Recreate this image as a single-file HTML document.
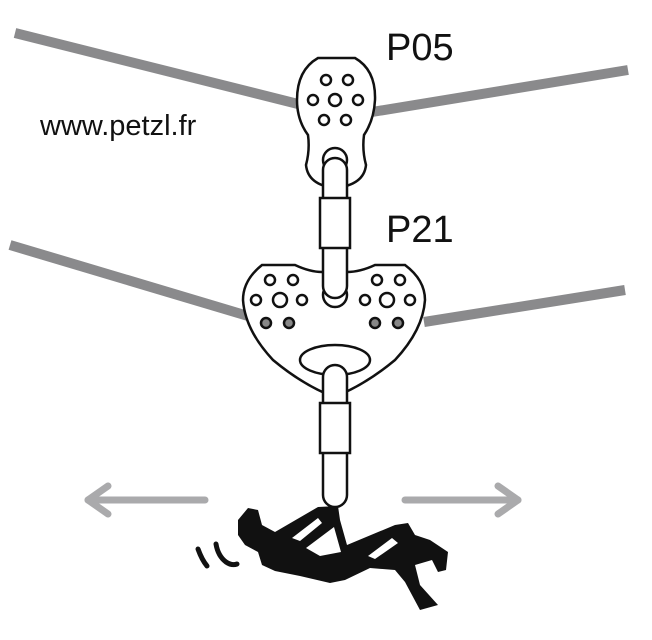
<!DOCTYPE html>
<html><head><meta charset="utf-8"><style>
html,body{margin:0;padding:0;background:#fff;width:652px;height:640px;overflow:hidden}
svg{display:block}
text{font-family:"Liberation Sans",sans-serif;fill:#111}
</style></head><body>
<svg width="652" height="640" viewBox="0 0 652 640" xmlns="http://www.w3.org/2000/svg">
<g stroke="#8a8a8c" stroke-width="10" stroke-linecap="butt" fill="none">
<line x1="15" y1="33" x2="302" y2="105"/>
<line x1="372" y1="112" x2="628" y2="70"/>
<line x1="10" y1="245" x2="248" y2="316"/>
<line x1="424" y1="322" x2="625" y2="290"/>
</g>
<g stroke="#aaaaac" stroke-width="7" fill="none" stroke-linecap="round" stroke-linejoin="round">
<line x1="205" y1="500" x2="88" y2="500"/><polyline points="108,486 88,500 108,514"/>
<line x1="405" y1="500" x2="518" y2="500"/><polyline points="498,486 518,500 498,514"/>
</g>
<text x="386" y="60" font-size="38">P05</text>
<text x="386" y="242" font-size="38">P21</text>
<text x="40" y="135" font-size="29">www.petzl.fr</text>
<g stroke="#111" stroke-width="2.5" fill="#fff">
<path d="M318,58 L355,58 Q376,70 375,100 Q374,120 364,135 Q362,150 366,165 Q364,185 335,188 Q308,185 306,165 Q310,150 308,135 Q297,120 297,100 Q297,70 318,58 Z"/>
<circle cx="335" cy="100" r="6"/><circle cx="326" cy="80" r="5"/><circle cx="348" cy="80" r="5"/>
<circle cx="313" cy="100" r="5"/><circle cx="358" cy="100" r="5"/><circle cx="324" cy="120" r="5"/><circle cx="346" cy="120" r="5"/>
<circle cx="335" cy="160" r="12"/>
<path d="M262,265 L295,265 Q310,272 322,272 L347,272 Q360,272 375,265 L405,265 Q425,280 425,300 Q423,330 395,360 Q365,385 334,397 Q303,385 273,360 Q245,330 243,300 Q243,280 262,265 Z"/>
<circle cx="335" cy="295" r="12"/>
<circle cx="270" cy="280" r="5"/><circle cx="293" cy="280" r="5"/><circle cx="256" cy="300" r="5"/><circle cx="280" cy="300" r="7"/><circle cx="302" cy="300" r="5"/>
<circle cx="377" cy="280" r="5"/><circle cx="400" cy="280" r="5"/><circle cx="365" cy="300" r="5"/><circle cx="387" cy="300" r="7"/><circle cx="410" cy="300" r="5"/>
<circle cx="266" cy="323" r="5" fill="#888"/><circle cx="289" cy="323" r="5" fill="#888"/><circle cx="375" cy="323" r="5" fill="#888"/><circle cx="398" cy="323" r="5" fill="#888"/>
<ellipse cx="335" cy="360" rx="35" ry="15"/>
<rect x="323" y="158" width="24" height="140" rx="12"/>
<rect x="320" y="198" width="30" height="50"/>
<rect x="323" y="365" width="24" height="142" rx="12"/>
<rect x="320" y="403" width="30" height="50"/>
</g>
<path fill="#111" fill-rule="evenodd" d="M238,520 L248,508 L258,510 L262,525 L275,532 L318,507 L338,506 L340,520 L347,545 L395,525 L408,523 L415,535 L430,540 L448,552 L446,570 L438,572 L432,560 L415,565 L420,585 L438,605 L420,610 L405,582 L395,570 L370,568 L345,580 L330,583 L300,576 L275,571 L262,565 L258,552 L245,545 L238,535 Z M292,538 L318,518 L322,523 L300,541 Z M306,548 L334,527 L341,552 L320,556 Z M368,556 L392,538 L398,543 L375,559 Z"/>
<g stroke="#111" stroke-width="5" fill="none" stroke-linecap="round">
<path d="M198,549 Q202,560 207,566"/>
<path d="M216,544 Q218,556 226,562 Q232,566 237,564"/>
</g>
</svg>
</body></html>
